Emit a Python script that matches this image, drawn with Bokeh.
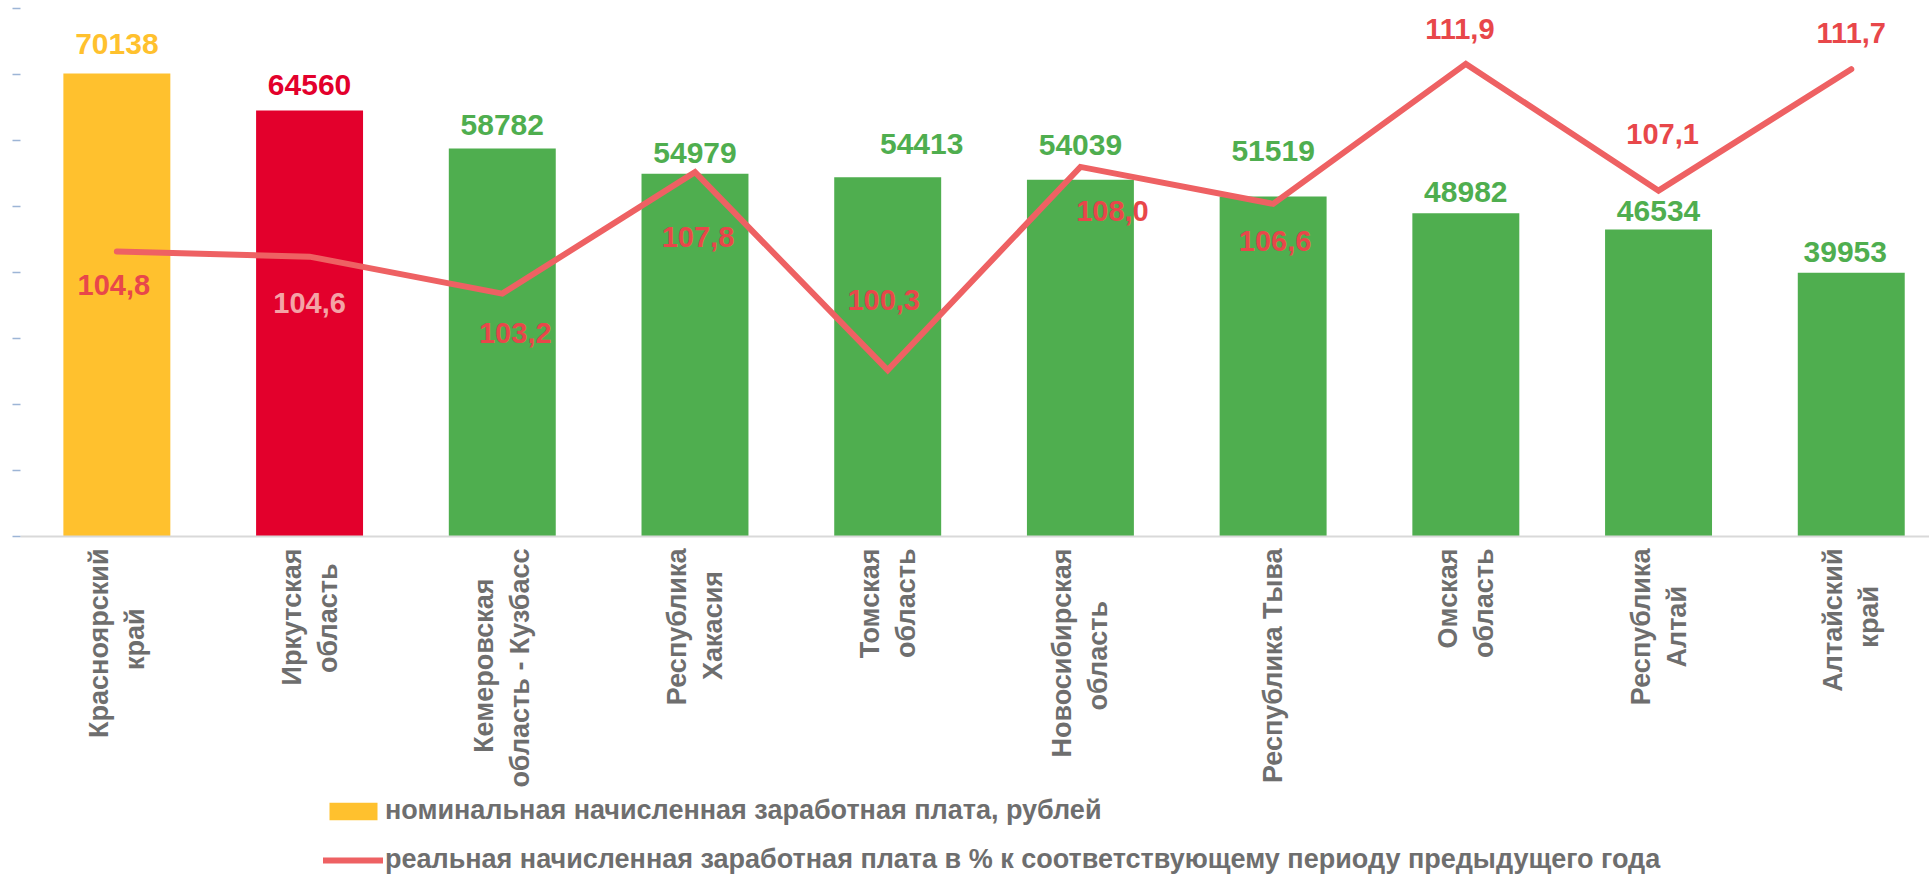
import numpy as np
from bokeh.plotting import figure
from bokeh.layouts import column
from bokeh.models import Range1d, FixedTicker, ColumnDataSource, Legend, LegendItem
from bokeh.core.properties import value
from bokeh.embed import file_html
from bokeh.resources import INLINE

# ---- data ----
categories = [
    ("Красноярский", "край"),
    ("Иркутская", "область"),
    ("Кемеровская", "область - Кузбасс"),
    ("Республика", "Хакасия"),
    ("Томская", "область"),
    ("Новосибирская", "область"),
    ("Республика Тыва", ""),
    ("Омская", "область"),
    ("Республика", "Алтай"),
    ("Алтайский", "край"),
]
nominal_wage = [70138, 64560, 58782, 54979, 54413, 54039, 51519, 48982, 46534, 39953]
real_wage_pct = [104.8, 104.6, 103.2, 107.8, 100.3, 108.0, 106.6, 111.9, 107.1, 111.7]
real_wage_text = ["104,8", "104,6", "103,2", "107,8", "100,3", "108,0", "106,6", "111,9", "107,1", "111,7"]
y_ticks = [0, 10000, 20000, 30000, 40000, 50000, 60000, 70000, 80000]
legend_bar = "номинальная начисленная заработная плата, рублей"
legend_line = "реальная начисленная заработная плата в % к соответствующему периоду предыдущего года"

# ---- styles / layout ----
YELLOW = "#FFC12E"
RED = "#E3002C"
GREEN = "#4FAE4F"
LINE = "#EE6163"
LINE_TXT = "#E8474A"
GRAY = "#6E6E6E"
NBSP = "\u00a0"
bar_colors = [YELLOW, RED] + [GREEN] * 8
bar_text_colors = [YELLOW, RED] + [GREEN] * 8
line_text_colors = [LINE_TXT, "#F4A3A6"] + [LINE_TXT] * 8
bar_label_dx = [0, 0, 0, 0, 34, 0, 0, 0, 0, -6]
bar_label_dy = [-30, -25, -24, -21, -33, -35, -45, -21, -18, -21]
line_label_dx = [-3, 0, 13, 3, -4, 32, 2, -6, 4, 0]
line_label_dy = [34, 46, 39, 65, -70, 44, 37, -35, -57, -36]
# padding (non-breaking spaces) on the shorter line so both lines look centred
pad_first = [0, 0, 4, 0, 0, 0, 0, 0, 0, 0]
pad_second = [8, 2, 0, 3, 0, 7, 0, 0, 5, 5]


def label_text(i):
    a, b = categories[i]
    if not b:
        return a
    return a + NBSP * pad_first[i] + "\n" + b + NBSP * pad_second[i]


xs = [i + 0.5 for i in range(len(categories))]

src = ColumnDataSource(dict(
    x=xs, top=nominal_wage, pct=real_wage_pct, color=bar_colors,
    btxt=[str(v) for v in nominal_wage], bcol=bar_text_colors,
    bdx=bar_label_dx, bdy=bar_label_dy,
    ltxt=real_wage_text, lcol=line_text_colors,
    ldx=line_label_dx, ldy=line_label_dy,
))

p = figure(frame_width=1909, frame_height=528,
           x_range=Range1d(0, 9.906), y_range=Range1d(0, 80000),
           output_backend="svg", toolbar_location=None,
           min_border_left=20, min_border_top=8, min_border_right=0,
           min_border_bottom=259)
p.extra_y_ranges = {"pct": Range1d(94, 114)}
p.outline_line_color = None
p.xgrid.visible = False
p.ygrid.visible = False
p.background_fill_color = "white"
p.border_fill_color = "white"

# x axis
xa = p.xaxis[0]
xa.ticker = FixedTicker(ticks=xs)
xa.major_label_overrides = {x: label_text(i) for i, x in enumerate(xs)}
xa.major_label_orientation = np.pi / 2
xa.major_tick_line_color = None
xa.minor_tick_line_color = None
xa.axis_line_color = "#D9D9D9"
xa.axis_line_width = 2
xa.major_label_standoff = 6
xa.major_label_text_font = "Liberation Sans"
xa.major_label_text_font_style = "bold"
xa.major_label_text_font_size = "27px"
xa.major_label_text_color = GRAY

# y axis (ticks only, no labels as in the source)
ya = p.yaxis[0]
ya.ticker = FixedTicker(ticks=y_ticks)
ya.major_label_overrides = {t: "" for t in y_ticks}
ya.axis_line_color = None
ya.major_tick_in = 0
ya.major_tick_out = 8
ya.major_tick_line_color = "#9DB5D6"
ya.major_tick_line_width = 1.5
ya.minor_tick_line_color = None
ya.major_label_standoff = 0

p.vbar(x="x", top="top", width=0.555, source=src,
       fill_color="color", line_color=None)
p.line(x="x", y="pct", source=src, y_range_name="pct",
       line_color=LINE, line_width=6, line_cap="round", line_join="miter")

p.text(x="x", y="top", text="btxt", source=src, text_color="bcol",
       x_offset="bdx", y_offset="bdy",
       text_align="center", text_baseline="middle",
       text_font=value("Liberation Sans"), text_font_style="bold",
       text_font_size="30px")
p.text(x="x", y="pct", text="ltxt", source=src, y_range_name="pct",
       text_color="lcol", x_offset="ldx", y_offset="ldy",
       text_align="center", text_baseline="middle",
       text_font=value("Liberation Sans"), text_font_style="bold",
       text_font_size="29px")

# ---- legend strip under the chart ----
lg = figure(width=1929, height=80, output_backend="svg", toolbar_location=None,
            x_range=Range1d(-100, -99), y_range=Range1d(-100, -99),
            min_border_left=0, min_border_right=0, min_border_top=0, min_border_bottom=0)
lg.axis.visible = False
lg.xgrid.visible = False
lg.ygrid.visible = False
lg.outline_line_color = None
lg_bars = lg.vbar(x="x", top="top", width=0.555, source=src,
                  fill_color="color", line_color=None)
lg_line = lg.line(x="x", y="pct", source=src,
                  line_color=LINE, line_width=6, line_cap="round")

legend = Legend(items=[
    LegendItem(label=legend_bar, renderers=[lg_bars], index=0),
    LegendItem(label=legend_line, renderers=[lg_line]),
], location=(303, 0), orientation="vertical")
legend.background_fill_alpha = 0
legend.border_line_color = None
legend.glyph_width = 60
legend.glyph_height = 22
legend.label_standoff = 2
legend.spacing = 18
legend.padding = 0
legend.margin = 0
legend.label_text_font = "Liberation Sans"
legend.label_text_font_style = "bold"
legend.label_text_font_size = "27px"
legend.label_text_color = GRAY
lg.add_layout(legend)

layout = column(p, lg, spacing=0)
open("out.html", "w").write(file_html(layout, INLINE))
